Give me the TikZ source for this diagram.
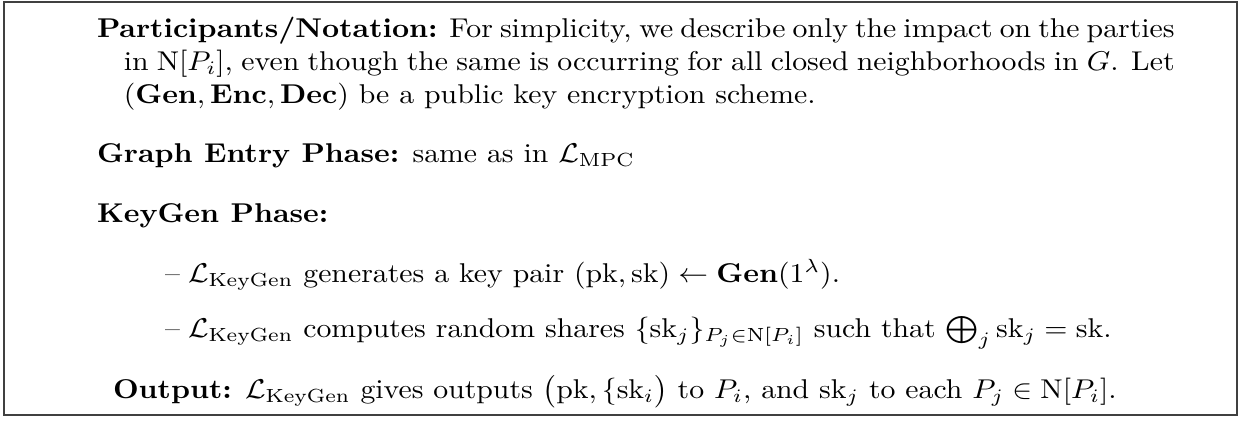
\documentclass[tikz,border=0pt]{standalone}
\usepackage{amsmath}
\usepackage{graphicx}
\newcommand{\sx}{1.37}
\newcommand{\sy}{1.25}
\newcommand{\stretched}[1]{\scalebox{\sx}[\sy]{#1}}
\begin{document}
\begin{tikzpicture}[x=0.4602pt,y=-0.4602pt,
  txt/.style={anchor=base west,inner sep=0pt,outer sep=0pt},
  frame/.style={draw=black!75,line width=0.7pt}]
\useasboundingbox (0,0) rectangle (1241,422);
\draw[frame] (4,2) rectangle (1237,415);
\node[txt] (p1) at (97,38) {\stretched{\parbox[t]{362pt}{\tolerance=10000\hbadness=10000\hangindent=9pt\hangafter=1\noindent\textbf{Participants/Notation:} For simplicity, we describe only the impact on the parties\linebreak in $\mathrm{N}[P_i]$, even though the same is occurring for all closed neighborhoods in $G$. Let\linebreak $(\mathbf{Gen},\mathbf{Enc},\mathbf{Dec})$ be a public key encryption scheme.}}};
\node[txt] (p2) at (97,162) {\stretched{\textbf{Graph Entry Phase:} same as in $\mathcal{L}_{\mathrm{MPC}}$}};
\node[txt] (p3) at (97,222) {\stretched{\textbf{KeyGen Phase:}}};
\node[txt] (d1) at (165,282) {\stretched{--}};
\node[txt] (b1) at (188,282) {\stretched{$\mathcal{L}_{\mathrm{KeyGen}}$ generates a key pair $(\mathrm{pk},\mathrm{sk})\leftarrow\mathbf{Gen}(1^{\lambda})$.}};
\node[txt] (d2) at (165,337) {\stretched{--}};
\node[txt] (b2) at (188,337) {\stretched{$\mathcal{L}_{\mathrm{KeyGen}}$ computes random shares $\{\mathrm{sk}_j\}_{P_j\in\mathrm{N}[P_i]}$ such that $\bigoplus_j\mathrm{sk}_j=\mathrm{sk}$.}};
\node[txt] (out) at (113,398) {\stretched{\textbf{Output:} $\mathcal{L}_{\mathrm{KeyGen}}$ gives outputs $\bigl(\mathrm{pk},\{\mathrm{sk}_i\bigr)$ to $P_i$, and $\mathrm{sk}_j$ to each $P_j\in\mathrm{N}[P_i]$.}};
\end{tikzpicture}
\end{document}
